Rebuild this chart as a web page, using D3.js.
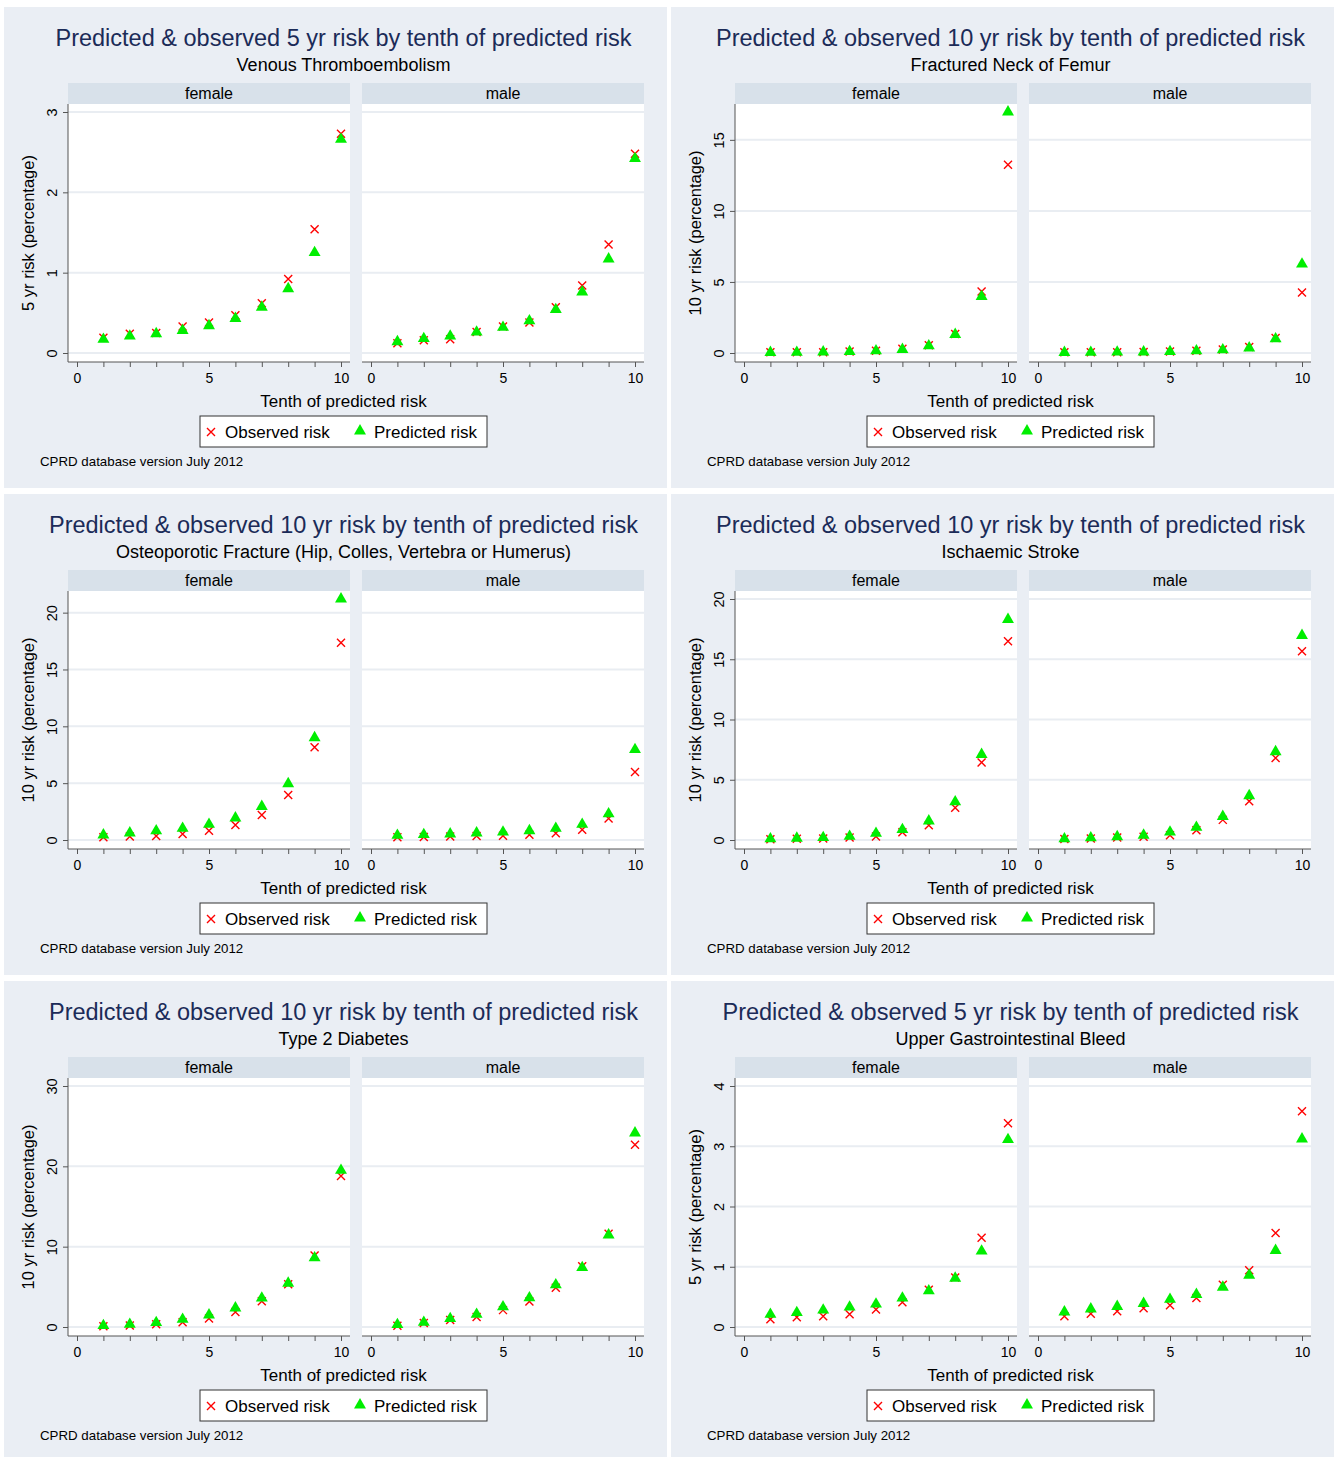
<!DOCTYPE html>
<html>
<head>
<meta charset="utf-8">
<script src="https://cdn.jsdelivr.net/npm/d3@7"></script>
<style>
body { margin: 0; background: #fff; }
text { font-family: "Liberation Sans", Arial, sans-serif; }
</style>
</head>
<body>
<script>
const width  = 1334
const height = 1457

const tenths = [1, 2, 3, 4, 5, 6, 7, 8, 9, 10]
const xTicks = [0, 1, 2, 3, 4, 5, 6, 7, 8, 9, 10]
const xLabelled = [0, 5, 10]
const sexes = ["female", "male"]

// Venous Thromboembolism (5 yr)
const vteObsF  = [0.19, 0.24, 0.25, 0.33, 0.38, 0.47, 0.62, 0.92, 1.54, 2.73]
const vtePredF = [0.17, 0.21, 0.24, 0.28, 0.34, 0.43, 0.57, 0.80, 1.25, 2.66]
const vteObsM  = [0.12, 0.16, 0.17, 0.26, 0.33, 0.38, 0.57, 0.84, 1.35, 2.48]
const vtePredM = [0.14, 0.18, 0.21, 0.26, 0.32, 0.40, 0.54, 0.76, 1.17, 2.42]
const vteTicks = [0, 1, 2, 3]

// Fractured Neck of Femur (10 yr)
const fnfObsF  = [0.05, 0.05, 0.06, 0.10, 0.15, 0.30, 0.55, 1.34, 4.33, 13.25]
const fnfPredF = [0.04, 0.05, 0.07, 0.10, 0.15, 0.25, 0.50, 1.30, 3.98, 16.96]
const fnfObsM  = [0.05, 0.05, 0.06, 0.07, 0.10, 0.15, 0.25, 0.42, 1.05, 4.26]
const fnfPredM = [0.04, 0.05, 0.06, 0.07, 0.10, 0.15, 0.22, 0.35, 1.00, 6.26]
const fnfTicks = [0, 5, 10, 15]

// Osteoporotic Fracture (10 yr)
const ostObsF  = [0.25, 0.30, 0.35, 0.53, 0.82, 1.33, 2.20, 3.95, 8.16, 17.35]
const ostPredF = [0.44, 0.62, 0.80, 1.03, 1.38, 1.94, 2.95, 4.95, 9.00, 21.20]
const ostObsM  = [0.24, 0.27, 0.30, 0.35, 0.38, 0.47, 0.60, 0.90, 1.90, 5.98]
const ostPredM = [0.41, 0.47, 0.53, 0.62, 0.70, 0.82, 1.03, 1.38, 2.30, 7.95]
const ostTicks = [0, 5, 10, 15, 20]

// Ischaemic Stroke (10 yr)
const strObsF  = [0.07, 0.10, 0.12, 0.20, 0.30, 0.64, 1.22, 2.67, 6.44, 16.50]
const strPredF = [0.10, 0.15, 0.20, 0.30, 0.55, 0.86, 1.58, 3.17, 7.10, 18.30]
const strObsM  = [0.08, 0.12, 0.20, 0.27, 0.40, 0.80, 1.67, 3.22, 6.80, 15.67]
const strPredM = [0.10, 0.18, 0.27, 0.40, 0.65, 1.05, 1.95, 3.67, 7.33, 16.97]
const strTicks = [0, 5, 10, 15, 20]

// Type 2 Diabetes (10 yr)
const t2dObsF  = [0.10, 0.20, 0.33, 0.60, 1.05, 1.88, 3.20, 5.33, 8.90, 18.80]
const t2dPredF = [0.17, 0.33, 0.55, 0.95, 1.50, 2.37, 3.60, 5.45, 8.60, 19.50]
const t2dObsM  = [0.17, 0.50, 0.88, 1.25, 2.10, 3.17, 4.90, 7.55, 11.60, 22.70]
const t2dPredM = [0.30, 0.58, 1.05, 1.58, 2.50, 3.62, 5.25, 7.40, 11.45, 24.15]
const t2dTicks = [0, 10, 20, 30]

// Upper Gastrointestinal Bleed (5 yr)
const ugiObsF  = [0.13, 0.16, 0.18, 0.21, 0.29, 0.41, 0.62, 0.82, 1.48, 3.38]
const ugiPredF = [0.21, 0.24, 0.28, 0.33, 0.38, 0.48, 0.60, 0.81, 1.26, 3.11]
const ugiObsM  = [0.18, 0.22, 0.26, 0.31, 0.36, 0.48, 0.70, 0.94, 1.56, 3.58]
const ugiPredM = [0.25, 0.30, 0.34, 0.39, 0.46, 0.54, 0.66, 0.86, 1.27, 3.12]
const ugiTicks = [0, 1, 2, 3, 4]

const title5  = "Predicted & observed 5 yr risk by tenth of predicted risk"
const title10 = "Predicted & observed 10 yr risk by tenth of predicted risk"
const yTitle5  = "5 yr risk (percentage)"
const yTitle10 = "10 yr risk (percentage)"

const panels = [
  {title: title5,  sub: "Venous Thromboembolism", ytitle: yTitle5, ticks: vteTicks,
   obs: [vteObsF, vteObsM], pred: [vtePredF, vtePredM]},
  {title: title10, sub: "Fractured Neck of Femur", ytitle: yTitle10, ticks: fnfTicks,
   obs: [fnfObsF, fnfObsM], pred: [fnfPredF, fnfPredM]},
  {title: title10, sub: "Osteoporotic Fracture (Hip, Colles, Vertebra or Humerus)", ytitle: yTitle10, ticks: ostTicks,
   obs: [ostObsF, ostObsM], pred: [ostPredF, ostPredM]},
  {title: title10, sub: "Ischaemic Stroke", ytitle: yTitle10, ticks: strTicks,
   obs: [strObsF, strObsM], pred: [strPredF, strPredM]},
  {title: title10, sub: "Type 2 Diabetes", ytitle: yTitle10, ticks: t2dTicks,
   obs: [t2dObsF, t2dObsM], pred: [t2dPredF, t2dPredM]},
  {title: title5,  sub: "Upper Gastrointestinal Bleed", ytitle: yTitle5, ticks: ugiTicks,
   obs: [ugiObsF, ugiObsM], pred: [ugiPredF, ugiPredM]}
]

const colX = [4, 671]
const rowY = [7, 494, 981]
const panelW = 663, panelH = 481
const plotTop = 97, plotBottom = 355
const facetLeft = [64, 358], facetW = 282
const mid = 339.5

const bgCol = "#eaeef4", stripCol = "#d8e1ea", gridCol = "#e9edf2"
const axisCol = "#555", titleCol = "#1b2b58"
const obsCol = "#ff0000", predCol = "#00ee00"

const triangle = d3.symbol().type(d3.symbolTriangle).size(62)
const cross = s => `M${-s},${-s}L${s},${s}M${-s},${s}L${s},${-s}`

const svg = d3.select("body").append("svg")
  .attr("width", width)
  .attr("height", height)

panels.forEach((p, i) => {
  const g = svg.append("g")
    .attr("transform", `translate(${colX[i % 2]},${rowY[Math.floor(i / 2)]})`)

  g.append("rect")
    .attr("width", panelW).attr("height", panelH)
    .attr("fill", bgCol)

  g.append("text")
    .attr("x", mid).attr("y", 39)
    .attr("text-anchor", "middle")
    .attr("font-size", 23.5)
    .attr("fill", titleCol)
    .text(p.title)

  g.append("text")
    .attr("x", mid).attr("y", 64)
    .attr("text-anchor", "middle")
    .attr("font-size", 18)
    .attr("fill", "#000")
    .text(p.sub)

  const yMax = d3.max([d3.max(p.ticks), d3.max(p.obs.flat()), d3.max(p.pred.flat())])
  const y = d3.scaleLinear().domain([0, yMax]).range([346, 105])

  sexes.forEach((sex, j) => {
    const left = facetLeft[j]
    const x = d3.scaleLinear().domain([0, 10]).range([left + 9, left + facetW - 9])
    const f = g.append("g")

    f.append("rect")
      .attr("x", left).attr("y", plotTop)
      .attr("width", facetW).attr("height", plotBottom - plotTop)
      .attr("fill", "#fff")

    // strip
    f.append("rect")
      .attr("x", left).attr("y", 76)
      .attr("width", facetW).attr("height", plotTop - 76)
      .attr("fill", stripCol)
    f.append("text")
      .attr("x", left + facetW / 2).attr("y", 92)
      .attr("text-anchor", "middle")
      .attr("font-size", 16)
      .text(sex)

    // gridlines
    f.append("g")
      .selectAll("line")
      .data(p.ticks)
      .join("line")
        .attr("x1", left).attr("x2", left + facetW)
        .attr("y1", d => y(d)).attr("y2", d => y(d))
        .attr("stroke", gridCol)
        .attr("stroke-width", 2)

    // x axis
    f.append("line")
      .attr("x1", left).attr("x2", left + facetW)
      .attr("y1", plotBottom).attr("y2", plotBottom)
      .attr("stroke", axisCol)
    f.append("g")
      .attr("transform", `translate(0,${plotBottom})`)
      .call(d3.axisBottom(x)
        .tickValues(xTicks)
        .tickSize(5)
        .tickFormat(d => xLabelled.includes(d) ? d : ""))
      .call(a => a.select(".domain").remove())
      .call(a => a.selectAll(".tick line").attr("stroke", axisCol))
      .call(a => a.selectAll(".tick text")
        .attr("y", 11)
        .attr("font-size", 14)
        .attr("font-family", null)
        .attr("fill", "#000"))

    // observed: red crosses
    f.append("g")
      .selectAll("path")
      .data(tenths)
      .join("path")
        .attr("transform", (d, k) => `translate(${x(d)},${y(p.obs[j][k])})`)
        .attr("d", cross(4))
        .attr("stroke", obsCol)
        .attr("stroke-width", 1.4)
        .attr("fill", "none")

    // predicted: green triangles
    f.append("g")
      .selectAll("path")
      .data(tenths)
      .join("path")
        .attr("transform", (d, k) => `translate(${x(d)},${y(p.pred[j][k])})`)
        .attr("d", triangle)
        .attr("fill", predCol)
  })

  // y axis
  g.append("line")
    .attr("x1", facetLeft[0]).attr("x2", facetLeft[0])
    .attr("y1", plotTop).attr("y2", plotBottom)
    .attr("stroke", axisCol)
  g.append("g")
    .attr("transform", `translate(${facetLeft[0]},0)`)
    .call(d3.axisLeft(y).tickValues(p.ticks).tickSize(5).tickFormat(d3.format("d")))
    .call(a => a.select(".domain").remove())
    .call(a => a.selectAll(".tick line").attr("stroke", axisCol))
    .call(a => a.selectAll(".tick text")
      .attr("transform", "rotate(-90)")
      .attr("x", 0).attr("y", -11).attr("dy", null)
      .attr("text-anchor", "middle")
      .attr("font-size", 14.5)
      .attr("font-family", null)
      .attr("fill", "#000"))

  g.append("text")
    .attr("transform", `translate(30,${(plotTop + plotBottom) / 2}) rotate(-90)`)
    .attr("text-anchor", "middle")
    .attr("font-size", 16.5)
    .text(p.ytitle)

  g.append("text")
    .attr("x", mid).attr("y", 400)
    .attr("text-anchor", "middle")
    .attr("font-size", 17)
    .text("Tenth of predicted risk")

  // legend
  const lg = g.append("g").attr("transform", "translate(196,409)")
  lg.append("rect")
    .attr("width", 287).attr("height", 31)
    .attr("fill", "#fff")
    .attr("stroke", "#333")
  lg.append("path")
    .attr("transform", "translate(11,16)")
    .attr("d", cross(4))
    .attr("stroke", obsCol).attr("stroke-width", 1.4)
  lg.append("text")
    .attr("x", 25).attr("y", 22)
    .attr("font-size", 17)
    .text("Observed risk")
  lg.append("path")
    .attr("transform", "translate(160,15)")
    .attr("d", triangle)
    .attr("fill", predCol)
  lg.append("text")
    .attr("x", 174).attr("y", 22)
    .attr("font-size", 17)
    .text("Predicted risk")

  g.append("text")
    .attr("x", 36).attr("y", 459)
    .attr("font-size", 13.3)
    .text("CPRD database version July 2012")
})
</script>
</body>
</html>
